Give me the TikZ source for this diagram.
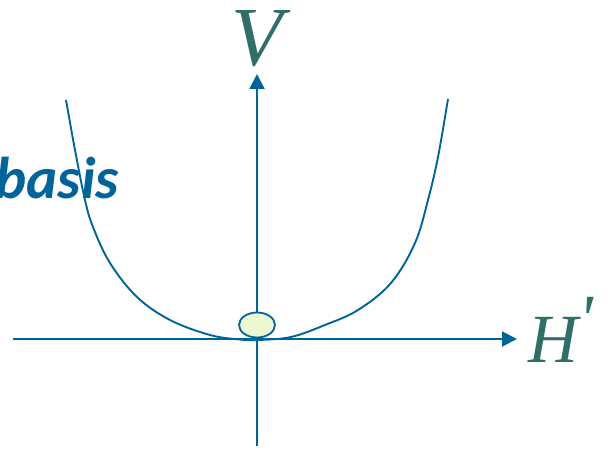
\documentclass[tikz,border=0pt]{standalone}
\usepackage{fontspec}
\usetikzlibrary{arrows.meta, shapes.geometric}
\newfontfamily\basisfont{Carlito}
\newfontfamily\lblfont{Liberation Serif}
\definecolor{axisblue}{RGB}{0,100,155}
\definecolor{lbltea}{RGB}{48,110,104}
\definecolor{ballfill}{RGB}{238,247,210}

\begin{document}
\begin{tikzpicture}[
                x=1pt, y=-1pt,
                axis/.style={line width=2pt, draw=axisblue, -{Triangle[length=15pt, width=15pt]}},
                curve/.style={line width=1.9pt, draw=axisblue},
                ball/.style={ellipse, draw=axisblue, line width=1.8pt, fill=ballfill,
                    minimum width=36pt, minimum height=25pt, inner sep=0pt},
                lbl/.style={text=lbltea, inner sep=0pt, font=\lblfont\itshape},
            ]
                \useasboundingbox (0, 0) rectangle (614, 454);

                %% the axes
                \coordinate (xstart) at (13, 339);
                \coordinate (xend) at (517, 339);
                \coordinate (ystart) at (257, 446);
                \coordinate (yend) at (257, 74);
                \draw[axis] (xstart) -- (xend);
                \draw[axis] (ystart) -- (yend);

                \node[lbl, anchor=base, font=\lblfont\itshape\fontsize{84}{84}\selectfont] (vlabel) at (257, 66) {V};
                \node[lbl, anchor=base west, font=\lblfont\itshape\fontsize{69}{69}\selectfont] (hlabel) at (528, 363)
                    {H\raisebox{.3em}{\textquotesingle}};

                %% the potential well
                \draw[curve] plot[smooth, tension=.6] coordinates {
                    (66, 100) (75, 150) (85, 200) (93, 227) (110, 263) (137, 297)
                    (170, 320) (210, 335) (240, 339.5) (258, 340) (291, 337)
                    (325, 325) (358, 310) (391, 283) (415, 243) (428, 200)
                    (438, 157) (448, 99)};

                %% the ball at the bottom
                \node[ball] (ball) at (257, 325) {};

                \node[anchor=base east, inner sep=0pt, text=axisblue,
                    font=\basisfont\bfseries\itshape\fontsize{59}{59}\selectfont] (basis) at (119, 199) {basis};
            \end{tikzpicture}
\end{document}
